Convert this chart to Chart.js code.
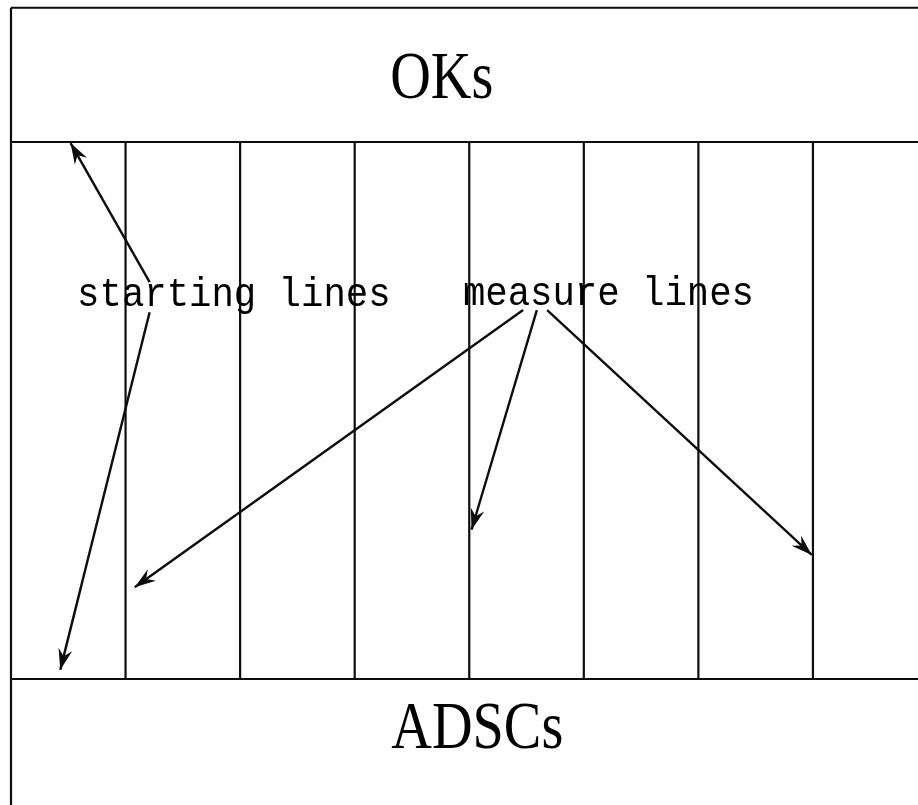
<!DOCTYPE html>
<html>
<head>
<meta charset="utf-8">
<script src="https://cdn.jsdelivr.net/npm/chart.js@4"></script>
<style>
  html, body { margin: 0; padding: 0; background: #ffffff; }
  #wrap { width: 918px; height: 805px; position: relative; }
</style>
</head>
<body>
<div id="wrap"><canvas id="c"></canvas></div>
<script>
// Diagram coordinates: x in units of measure-line spacing (left border = 0),
// y in units where the ADSCs boundary = 0 and the OKs boundary = 10.
const measureLineX = [1, 2, 3, 4, 5, 6, 7];
const bandBottomY = 0;      // OKs/ADSCs boundaries
const bandTopY = 10;
const frameTopY = 12.5;
const frameLeftX = 0;
const axisXRange = [-0.096, 7.917];
const axisYRange = [-2.346, 12.644];

// Arrows (from label to target line)
const arrowFromX = [1.21, 1.21, 4.47, 4.59, 4.68];
const arrowFromY = [7.39, 6.83, 6.87, 6.87, 6.87];
const arrowToX   = [0.52, 0.43, 1.08, 4.02, 6.99];
const arrowToY   = [9.98, 0.17, 1.71, 2.78, 2.31];

// Text labels
const labelTexts = ["OKs", "ADSCs", "starting lines", "measure lines"];
const labelX = [3.76, 4.07, 1.945, 5.215];
const labelY = [10.82, -1.285, 6.95, 6.965];

const INK = '#0d0d0d';

function seg(x1, y1, x2, y2) {
  return {
    data: [{x: x1, y: y1}, {x: x2, y: y2}],
    showLine: true, borderColor: INK, borderWidth: 2.2,
    pointRadius: 0, fill: false, tension: 0
  };
}

const datasets = [];
// frame
datasets.push(seg(frameLeftX, frameTopY, axisXRange[1], frameTopY));
datasets.push(seg(frameLeftX, frameTopY, frameLeftX, axisYRange[0]));
datasets.push(seg(frameLeftX, bandTopY, axisXRange[1], bandTopY));
datasets.push(seg(frameLeftX, bandBottomY, axisXRange[1], bandBottomY));
// measure lines
measureLineX.forEach(x => datasets.push(seg(x, bandBottomY, x, bandTopY)));
// arrow shafts
arrowFromX.forEach((x, i) => {
  const d = seg(x, arrowFromY[i], arrowToX[i], arrowToY[i]);
  d.borderWidth = 2.4;
  datasets.push(d);
});

const annotate = {
  id: 'annotate',
  afterDatasetsDraw(chart) {
    const {ctx, scales: {x: sx, y: sy}} = chart;
    // arrow heads
    ctx.save();
    ctx.fillStyle = INK;
    for (let i = 0; i < arrowToX.length; i++) {
      const tx = sx.getPixelForValue(arrowToX[i]), ty = sy.getPixelForValue(arrowToY[i]);
      const fx = sx.getPixelForValue(arrowFromX[i]), fy = sy.getPixelForValue(arrowFromY[i]);
      const a = Math.atan2(ty - fy, tx - fx);
      const L = 21, W = 7, N = 14;
      ctx.save();
      ctx.translate(tx, ty);
      ctx.rotate(a);
      ctx.beginPath();
      ctx.moveTo(0, 0);
      ctx.lineTo(-L, -W);
      ctx.lineTo(-N, 0);
      ctx.lineTo(-L, W);
      ctx.closePath();
      ctx.fill();
      ctx.restore();
    }
    // labels
    ctx.fillStyle = '#000000';
    ctx.textBaseline = 'alphabetic';
    ctx.textAlign = 'center';
    labelTexts.forEach((t, i) => {
      const px = sx.getPixelForValue(labelX[i]), py = sy.getPixelForValue(labelY[i]);
      ctx.save();
      ctx.translate(px, py);
      if (i < 2) {
        ctx.font = '67px "Liberation Serif", serif';
        ctx.scale(0.84, 1);
      } else {
        ctx.font = '41px "Liberation Mono", monospace';
        ctx.scale(0.91, 1);
      }
      ctx.fillText(t, 0, 0);
      ctx.restore();
    });
    ctx.restore();
  }
};

new Chart(document.getElementById('c'), {
  type: 'scatter',
  data: { datasets },
  options: {
    responsive: true,
    maintainAspectRatio: false,
    animation: false,
    layout: { padding: 0 },
    plugins: { legend: { display: false }, tooltip: { enabled: false } },
    events: [],
    scales: {
      x: { type: 'linear', min: axisXRange[0], max: axisXRange[1], display: false },
      y: { type: 'linear', min: axisYRange[0], max: axisYRange[1], display: false }
    }
  },
  plugins: [annotate]
});
</script>
</body>
</html>
